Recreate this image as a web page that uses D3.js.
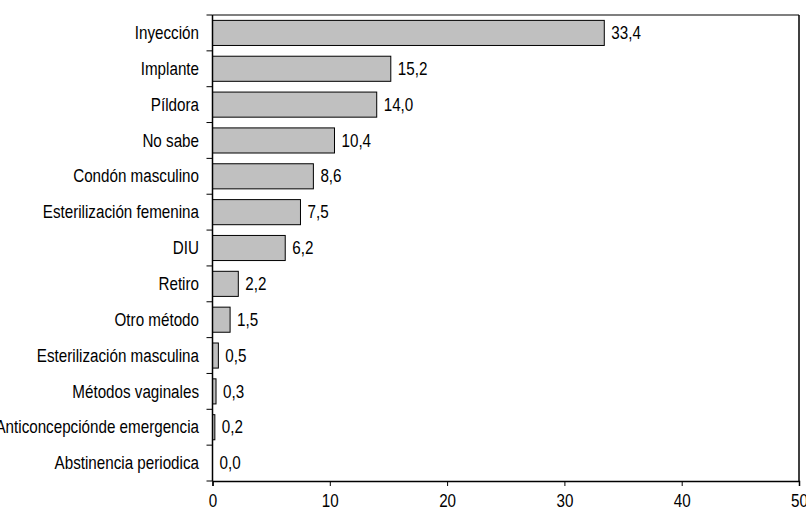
<!DOCTYPE html>
<html>
<head>
<meta charset="utf-8">
<script src="https://cdn.jsdelivr.net/npm/d3@7"></script>
<style>
  html, body { margin: 0; padding: 0; background: #fff; }
  svg { display: block; }
  text { font-family: "Liberation Sans", Arial, sans-serif; font-size: 15.2px; fill: #000; }
</style>
</head>
<body>
<svg id="chart" width="806" height="515"></svg>
<script>
// Métodos anticonceptivos (%)
const categories = [
  "Inyección", "Implante", "Píldora", "No sabe", "Condón masculino",
  "Esterilización femenina", "DIU", "Retiro", "Otro método",
  "Esterilización masculina", "Métodos vaginales",
  "Anticoncepciónde emergencia", "Abstinencia periodica"
];
const values = [33.4, 15.2, 14.0, 10.4, 8.6, 7.5, 6.2, 2.2, 1.5, 0.5, 0.3, 0.2, 0.0];
const xTicks = [0, 10, 20, 30, 40, 50];

const margin = { top: 15, right: 7, bottom: 34, left: 212.5 };
const width = 806, height = 515;
const stretch = 1.16; // tall, narrow lettering
const svg = d3.select("#chart");

const x = d3.scaleLinear().domain([0, 50]).range([margin.left, width - margin.right]);
const y = d3.scaleBand().domain(categories)
  .range([margin.top, height - margin.bottom])
  .paddingInner(0.3).paddingOuter(0.15);

const fmt = v => v.toFixed(1).replace(".", ",");

// Places a vertically stretched label centred on (px, py)
function label(sel, px, py, anchor) {
  sel.attr("transform", (d, i) => `translate(${px(d, i)},${py(d, i)})`)
    .append("text")
    .attr("transform", `scale(1,${stretch})`)
    .attr("dy", "0.35em")
    .attr("text-anchor", anchor);
  return sel.select("text");
}

// Plot frame: top and right edges
svg.append("line")
  .attr("x1", x(0)).attr("x2", x(50))
  .attr("y1", margin.top).attr("y2", margin.top)
  .attr("stroke", "#555").attr("stroke-width", 1.5);
svg.append("line")
  .attr("x1", x(50)).attr("x2", x(50))
  .attr("y1", margin.top).attr("y2", height - margin.bottom)
  .attr("stroke", "#000").attr("stroke-width", 1.5);

// Bars
svg.append("g").selectAll("rect")
  .data(categories)
  .join("rect")
  .attr("x", x(0))
  .attr("y", d => y(d))
  .attr("width", (d, i) => x(values[i]) - x(0))
  .attr("height", y.bandwidth())
  .attr("fill", "#c0c0c0")
  .attr("stroke", "#000")
  .attr("stroke-width", 1);

// Value labels
label(
  svg.append("g").selectAll("g").data(categories).join("g"),
  (d, i) => x(values[i]) + 7,
  d => y(d) + y.bandwidth() / 2,
  "start"
).text((d, i) => fmt(values[i]));

// Category axis with ticks on band boundaries
const yAxisG = svg.append("g").attr("transform", `translate(${x(0)},0)`);
yAxisG.append("line")
  .attr("x1", 0).attr("x2", 0)
  .attr("y1", margin.top).attr("y2", height - margin.bottom)
  .attr("stroke", "#000").attr("stroke-width", 1.5);
const bounds = d3.range(categories.length + 1)
  .map(i => margin.top + i * (height - margin.top - margin.bottom) / categories.length);
yAxisG.selectAll("line.tick").data(bounds).join("line")
  .attr("class", "tick")
  .attr("x1", -6).attr("x2", 0)
  .attr("y1", d => d).attr("y2", d => d)
  .attr("stroke", "#000").attr("stroke-width", 1);
label(
  yAxisG.selectAll("g").data(categories).join("g"),
  () => -13.5,
  d => y(d) + y.bandwidth() / 2,
  "end"
).text(d => d);

// Value axis
const xAxis = d3.axisBottom(x).tickValues(xTicks).tickSize(5).tickPadding(7).tickFormat(d3.format("d"));
const xAxisG = svg.append("g")
  .attr("transform", `translate(0,${height - margin.bottom})`)
  .call(xAxis);
xAxisG.select(".domain").attr("stroke", "#000").attr("stroke-width", 1.5);
xAxisG.selectAll(".tick line").attr("stroke", "#000");
xAxisG.selectAll(".tick text")
  .attr("transform", `scale(1,${stretch})`)
  .attr("font-size", 15.2)
  .attr("font-family", "Liberation Sans, Arial, sans-serif")
  .attr("fill", "#000");
</script>
</body>
</html>
